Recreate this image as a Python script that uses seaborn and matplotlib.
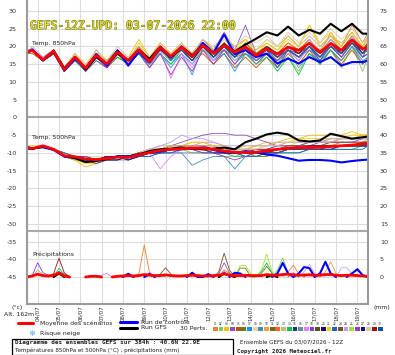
import numpy as np
import pandas as pd
import matplotlib
matplotlib.use("Agg")
import matplotlib.pyplot as plt
import seaborn as sns
from matplotlib import patheffects as pe
from matplotlib.lines import Line2D
from matplotlib.patches import Rectangle

sns.set_theme(style="white")
plt.rcParams['font.family'] = ['DejaVu Sans']
plt.rcParams['axes.unicode_minus'] = False

# ---------------- data ----------------
HOURS_T = [0] + list(range(6, 379, 12)) + [384]      # temperature time steps (h)
HOURS_P = list(range(0, 385, 6))                       # precipitation time steps (h)
DAY_HOURS = [12 + 24 * i for i in range(16)]
DAY_LABELS = ["04/07", "05/07", "06/07", "07/07", "08/07", "09/07", "10/07", "11/07",
              "12/07", "13/07", "14/07", "15/07", "16/07", "17/07", "18/07", "19/07"]
LEFT_TICKS = list(range(-45, 31, 5))
RIGHT_TICKS = list(range(0, 76, 5))

MEAN_850 = [18.4, 18.9, 16.2, 18.7, 13.5, 17.0, 13.9, 17.5, 15.1, 18.4, 16.1, 19.1, 15.8, 19.8, 17.2, 19.8, 17.2,
            20.3, 18.0, 20.3, 18.4, 19.8, 17.5, 19.3, 17.9, 19.8, 18.9, 20.9, 18.4, 20.8, 18.9, 21.9, 19.3, 19.8]
CTRL_850 = [18.4, 19.2, 16.0, 18.5, 13.2, 16.5, 14.0, 17.8, 14.6, 18.9, 14.6, 18.6, 15.5, 19.5, 16.8, 20.0, 17.0,
            21.0, 18.2, 23.4, 17.8, 19.0, 17.0, 18.0, 15.2, 16.6, 15.2, 17.0, 15.6, 17.0, 14.6, 15.6, 15.6, 16.0]
GFS_850 = [18.4, 19.0, 16.3, 18.8, 13.8, 17.0, 13.5, 17.0, 15.0, 18.0, 16.0, 19.0, 16.5, 20.0, 17.0, 20.0, 17.5,
           20.5, 18.2, 20.5, 18.6, 20.5, 22.2, 24.0, 23.1, 25.6, 23.1, 24.7, 23.6, 26.4, 24.3, 26.4, 23.6, 23.6]
PERT_850 = [
    [18,19,16,19,13,17,14,18,15,18,16,20,15,20,17,20,16,21,18,21,19,20,17,19,18,21,19,22,18,24,20,26,21,24],
    [18,19,16,18,14,17,14,17,15,19,16,19,16,20,17,19,17,20,18,19,17,19,15,18,14,17,13,18,15,19,14,20,13,17],
    [19,19,16,19,13,17,14,18,16,19,17,22,17,21,18,21,18,22,19,23,20,22,19,21,19,23,20,26,20,23,19,22,20,21],
    [18,19,17,19,14,18,14,18,15,19,16,20,16,19,16,20,17,22,19,24,19,26,18,20,17,19,17,20,16,21,18,22,18,20],
    [18,18,16,18,13,16,13,16,14,17,15,18,14,19,16,19,16,18,15,18,14,17,14,17,14,18,15,19,15,19,15,19,15,17],
    [18,19,16,18,14,17,14,17,15,18,15,18,15,19,16,19,17,20,17,19,17,18,16,18,16,19,17,20,17,20,17,21,18,19],
    [18,19,16,19,13,17,13,17,14,18,15,18,14,18,15,18,15,19,16,18,13,18,16,18,16,19,17,19,17,20,18,21,17,18],
    [18,19,17,19,14,17,14,18,16,19,17,20,17,21,18,21,18,21,19,21,19,21,18,20,19,21,19,22,19,22,19,23,20,21],
    [18,19,16,18,13,16,13,16,14,18,15,19,15,18,14,18,12,20,17,21,18,20,16,19,15,19,16,20,15,19,16,20,16,17],
    [19,19,16,19,14,18,14,17,15,18,16,19,16,20,18,20,18,21,19,20,19,20,18,20,18,20,19,21,19,23,20,24,20,23],
    [18,19,16,18,14,17,14,17,15,18,16,19,15,19,16,20,17,21,18,20,18,20,17,19,17,19,18,20,17,20,18,21,18,20],
    [18,19,16,19,13,17,13,17,14,18,15,19,15,20,17,20,17,20,17,20,17,19,17,20,18,21,19,22,18,21,19,22,19,21],
    [18,19,16,18,13,17,14,18,15,18,16,19,16,20,17,21,18,22,19,23,20,22,19,22,20,23,20,23,20,23,21,24,20,22],
    [18,19,16,18,14,16,14,17,15,17,15,18,15,18,15,19,16,19,17,19,16,18,15,17,13,17,12,18,15,19,16,20,17,18],
    [18,19,16,18,14,17,14,17,15,18,16,19,16,19,17,19,17,20,18,20,18,19,17,19,17,19,18,20,18,20,18,21,19,20],
    [18,19,16,19,13,16,14,17,15,18,16,19,15,19,16,19,16,20,16,19,15,18,15,18,16,19,14,18,16,19,16,20,15,17],
    [18,19,16,18,13,17,13,18,15,18,15,19,14,19,11,18,14,19,16,20,17,21,17,20,17,19,16,20,17,21,17,21,18,20],
    [18,19,16,19,14,17,14,17,15,19,16,19,16,20,16,19,16,20,17,21,17,20,17,19,16,19,17,20,17,21,19,22,18,19],
    [18,19,16,19,13,17,14,17,15,18,16,19,16,20,17,20,17,21,18,20,18,20,18,20,18,20,18,21,18,21,19,21,19,20],
    [18,19,16,18,14,17,14,18,15,18,15,19,16,19,17,20,17,20,18,20,18,20,17,19,17,20,19,21,18,21,19,22,19,20],
    [18,19,16,19,14,18,15,19,16,19,16,21,17,21,18,21,18,21,19,22,19,22,18,21,19,22,20,26,21,24,20,24,20,22],
    [18,19,16,18,13,17,13,17,14,18,15,18,15,19,16,19,16,20,17,20,17,20,17,19,14,19,17,20,16,20,17,21,17,18],
    [18,19,16,19,14,17,14,18,16,19,16,20,16,20,17,20,17,20,17,21,18,21,18,20,18,20,18,21,18,22,19,23,19,21],
    [18,20,17,19,14,17,14,19,15,19,16,19,16,20,16,19,15,20,16,20,16,19,16,19,17,20,17,22,18,22,18,23,19,21],
    [18,19,16,18,13,17,14,17,15,18,15,19,15,19,16,19,16,19,17,20,17,19,17,20,16,19,17,20,17,21,18,21,18,21],
    [18,19,16,18,13,17,13,17,14,18,15,19,14,18,12,17,13,19,15,19,15,19,16,18,16,19,17,20,17,21,17,21,17,20],
    [18,19,16,19,14,17,14,18,15,19,16,19,16,20,17,19,16,20,17,20,17,20,17,20,18,20,18,21,18,21,18,22,18,20],
    [18,19,16,19,14,18,15,18,16,20,17,20,17,21,18,21,18,22,20,23,20,23,21,23,20,24,21,24,21,25,22,25,21,23],
    [18,19,16,18,14,17,14,17,15,18,16,19,16,19,17,20,17,20,18,20,18,20,17,20,17,20,18,21,18,21,19,22,19,21],
    [18,19,16,19,14,17,14,18,15,18,16,19,16,20,16,20,17,20,17,20,17,20,17,19,17,19,17,20,17,21,18,21,18,20],
]

MEAN_500 = [-8.5, -8.8, -8.0, -9.0, -10.8, -11.1, -11.7, -11.9, -11.6, -11.2, -11.3, -10.6, -9.9, -9.3, -9.0, -8.8, -8.7,
            -8.7, -9.0, -9.5, -9.8, -9.9, -9.8, -9.4, -9.0, -8.7, -8.5, -8.5, -8.4, -8.2, -8.0, -7.8, -7.5, -7.4]
CTRL_500 = [-8.5, -8.7, -8.4, -9.2, -11.0, -11.2, -11.8, -12.0, -11.5, -11.0, -11.0, -10.5, -10.0, -9.5, -9.0, -9.0, -8.8,
            -8.5, -9.2, -9.8, -10.0, -9.5, -9.8, -10.5, -10.8, -11.5, -12.2, -12.0, -12.0, -12.2, -12.7, -12.3, -12.0, -11.9]
GFS_500 = [-8.5, -8.8, -8.3, -9.0, -11.0, -11.5, -12.6, -12.3, -11.8, -11.0, -11.0, -10.5, -9.5, -9.0, -8.8, -8.5, -8.8,
           -9.0, -8.8, -8.5, -9.0, -7.0, -6.0, -4.8, -4.3, -4.8, -6.5, -6.8, -6.5, -4.6, -5.3, -6.0, -5.6, -5.4]
PERT_500 = [
    [-8,-9,-8,-9,-11,-11,-12,-12,-11,-11,-11,-10,-9,-9,-8,-8,-8,-8,-9,-9,-10,-10,-9,-9,-8,-8,-8,-7,-7,-7,-6,-6,-6,-6],
    [-9,-9,-8,-9,-10,-11,-12,-12,-12,-11,-12,-11,-10,-10,-10,-9,-10,-10,-10,-11,-11,-10,-10,-10,-9,-9,-9,-8,-9,-8,-8,-8,-8,-8],
    [-8,-8,-8,-9,-11,-12,-14,-13,-12,-11,-11,-10,-10,-9,-8,-8,-7,-7,-8,-8,-9,-8,-8,-7,-7,-6,-6,-5,-5,-5,-5,-4,-5,-5],
    [-9,-9,-8,-9,-11,-11,-11,-12,-11,-11,-12,-11,-10,-9,-8,-7,-6,-5,-4.5,-4.5,-5,-5,-6,-7,-8,-8,-8,-7,-7,-7,-6,-6,-6,-6],
    [-8,-9,-8,-9,-11,-11,-12,-12,-12,-11,-11,-11,-10,-10,-9,-9,-9,-9,-10,-10,-10,-10,-10,-10,-9,-9,-9,-9,-9,-8,-8,-8,-7,-7],
    [-9,-9,-8,-9,-10,-11,-11,-12,-11,-11,-11,-10,-9,-9,-9,-9,-9,-9,-9,-9,-10,-10,-11,-11,-10,-9,-9,-9,-8,-8,-8,-8,-8,-7],
    [-8,-9,-8,-9,-11,-11,-12,-12,-11,-11,-11,-11,-10,-10,-9,-9,-9,-9,-9,-10,-10,-11,-11,-10,-10,-9,-9,-9,-9,-9,-8,-8,-8,-8],
    [-8,-8,-8,-9,-11,-11,-11,-11,-11,-11,-11,-10,-9,-8,-8,-8,-8,-8,-8,-9,-9,-9,-9,-8,-8,-8,-7,-7,-7,-6,-6,-5,-5,-5],
    [-9,-9,-8,-9,-11,-12,-12,-12,-12,-12,-12,-11,-11,-10,-10,-10,-13.5,-12,-11,-11,-14.5,-11,-10,-10,-10,-9,-9,-9,-8,-8,-8,-8,-8,-8],
    [-8,-9,-8,-9,-10,-11,-11,-12,-11,-11,-11,-10,-10,-9,-9,-8,-8,-8,-9,-9,-9,-9,-8,-8,-8,-7,-7,-7,-7,-6,-6,-6,-5,-5],
    [-9,-9,-8,-9,-11,-11,-12,-12,-12,-11,-11,-11,-10,-10,-9,-9,-9,-9,-9,-10,-10,-10,-10,-10,-9,-9,-9,-9,-9,-9,-8,-8,-8,-7],
    [-8,-9,-8,-9,-11,-11,-12,-12,-12,-11,-11,-10,-10,-9,-9,-9,-8,-8,-9,-9,-10,-10,-10,-9,-9,-9,-9,-8,-8,-8,-7,-7,-7,-7],
    [-8,-9,-8,-9,-11,-11,-12,-12,-11,-11,-11,-10,-9,-8,-8,-8,-8,-8,-8,-9,-9,-9,-9,-9,-9,-8,-8,-8,-8,-7,-7,-7,-7,-6],
    [-9,-9,-8,-9,-11,-11,-12,-12,-11,-11,-11,-11,-10,-10,-9,-9,-9,-10,-10,-10,-11,-11,-11,-10,-10,-10,-10,-9,-9,-9,-9,-9,-8,-8],
    [-9,-9,-8,-9,-11,-11,-12,-12,-12,-12,-11,-11,-10,-10,-9,-9,-9,-9,-9,-9,-10,-10,-10,-9,-9,-9,-8,-8,-8,-8,-8,-8,-7,-7],
    [-8,-9,-8,-9,-11,-12,-12,-12,-11,-11,-11,-10,-10,-10,-10,-10,-10,-10,-10,-10,-10,-10,-10,-10,-9,-9,-9,-9,-9,-8,-8,-8,-8,-8],
    [-9,-9,-8,-9,-11,-11,-12,-12,-12,-11,-11,-11,-10,-14.5,-11,-9,-8,-7,-7,-8,-9,-9,-9,-9,-9,-9,-9,-8,-8,-8,-8,-8,-7,-7],
    [-8,-9,-8,-9,-11,-11,-12,-12,-11,-11,-11,-10,-9,-9,-9,-8,-8,-8,-8,-9,-9,-9,-9,-9,-8,-8,-8,-8,-7,-7,-7,-7,-6,-6],
    [-9,-9,-8,-9,-11,-11,-12,-12,-12,-11,-11,-11,-10,-9,-9,-9,-9,-9,-9,-10,-10,-10,-10,-10,-9,-9,-9,-9,-9,-8,-8,-8,-8,-8],
    [-9,-9,-8,-9,-11,-11,-12,-12,-12,-12,-11,-11,-10,-10,-9,-9,-9,-9,-10,-10,-10,-10,-10,-10,-9,-9,-9,-9,-8,-8,-8,-8,-8,-8],
    [-8,-9,-8,-9,-11,-12,-13,-13,-12,-11,-11,-10,-9,-9,-8,-8,-7,-7,-8,-8,-9,-9,-8,-8,-7,-7,-6,-6,-6,-6,-6,-5,-5,-5],
    [-9,-9,-8,-9,-10,-11,-11,-12,-11,-11,-12,-11,-11,-10,-10,-9,-9,-9,-10,-10,-10,-11,-11,-10,-10,-10,-10,-9,-9,-9,-9,-9,-9,-8],
    [-8,-9,-8,-9,-11,-11,-12,-12,-11,-11,-11,-10,-9,-9,-8,-8,-8,-8,-9,-9,-10,-10,-9,-9,-9,-8,-8,-8,-8,-7,-7,-7,-7,-7],
    [-9,-9,-8,-9,-11,-11,-12,-12,-12,-11,-11,-10,-9,-8,-7,-5,-6,-6,-7,-8,-8,-8,-8,-8,-7,-7,-7,-7,-7,-6,-6,-6,-6,-6],
    [-8,-9,-8,-9,-11,-11,-12,-12,-12,-11,-11,-11,-10,-9,-9,-9,-9,-9,-9,-9,-10,-10,-10,-10,-9,-9,-9,-9,-8,-8,-8,-8,-7,-7],
    [-9,-9,-8,-9,-11,-11,-12,-12,-11,-11,-11,-11,-10,-10,-9,-9,-9,-10,-10,-11,-12,-11,-10,-10,-10,-9,-9,-9,-9,-9,-8,-8,-8,-8],
    [-9,-9,-8,-9,-11,-11,-12,-12,-11,-11,-12,-11,-10,-9,-9,-9,-9,-9,-9,-10,-10,-10,-10,-10,-9,-9,-9,-8,-8,-8,-8,-8,-8,-8],
    [-8,-9,-8,-9,-11,-11,-12,-12,-12,-11,-11,-10,-9,-9,-8,-8,-8,-8,-8,-9,-9,-9,-9,-8,-8,-7,-7,-7,-7,-7,-6,-6,-6,-6],
    [-9,-9,-8,-9,-11,-11,-12,-12,-11,-11,-11,-10,-10,-9,-9,-9,-9,-9,-9,-10,-10,-10,-10,-10,-9,-9,-9,-8,-8,-8,-8,-8,-7,-7],
    [-9,-9,-8,-9,-11,-11,-12,-13,-12,-11,-11,-11,-10,-10,-9,-9,-9,-9,-9,-10,-10,-10,-10,-10,-10,-9,-9,-9,-9,-9,-8,-8,-8,-8],
]

MEAN_PR = [0, 0.3, 0.8, 0.4, 0.3, 0.5, 1.2, 0.3, 0, 0, 0, 0, 0.2,
           0.2, 0, 0, 0, 0.2, 0.3, 0.4, 0.3, 0.4, 0.7, 0.5, 0.4, 0.4,
           0.6, 0.4, 0.3, 0.3, 0.4, 0.5, 0.4, 0.3, 0.3, 0.4, 0.5, 0.9, 0.5,
           0.4, 0.4, 0.5, 0.4, 0.4, 0.4, 0.7, 0.5, 0.5, 0.7, 0.8, 0.6, 0.5,
           0.6, 0.6, 0.5, 0.5, 0.7, 0.7, 0.5, 0.4, 0.5, 0.5, 0.4, 0.3, 0.2]
CTRL_PR = {114: 0.9, 138: 0.8, 186: 1.2, 204: 0.8, 234: 1.2, 240: 1.0, 282: 1.0, 288: 4.0, 294: 1.0,
           306: 1.0, 312: 2.8, 318: 2.5, 330: 1.0, 336: 4.3, 342: 1.0, 366: 1.0, 372: 2.2, 378: 0.5}
GFS_PR = {36: 1.0, 222: 1.0, 228: 0.5, 276: 0.5}
PERT_PR = {
    1: {126: 1.0, 132: 9.0, 138: 1.2, 294: 1.5, 300: 3.3, 306: 1.0},
    2: {12: 2.0, 18: 0.6, 282: 2.0, 288: 5.4, 294: 1.0},
    4: {216: 1.0, 222: 4.0, 228: 1.2, 318: 1.0},
    6: {240: 2.5, 246: 2.5, 264: 1.0, 270: 3.0, 276: 1.0},
    7: {36: 1.6, 42: 0.6, 150: 0.8},
    10: {336: 1.5, 342: 4.3, 348: 1.0},
    12: {222: 2.0, 228: 1.0},
    14: {36: 2.5, 42: 0.8, 264: 1.5, 270: 4.0, 276: 1.0},
    17: {84: 0.5, 90: 1.0, 330: 1.5},
    18: {6: 0.5, 12: 4.0, 18: 1.2, 24: 0.5},
    23: {150: 0.8, 156: 2.6, 162: 0.8, 216: 1.5, 222: 6.7, 228: 2.0},
    24: {312: 1.5, 318: 3.5, 324: 1.0, 354: 2.6, 360: 2.6, 366: 1.0},
    25: {240: 3.2, 246: 3.2, 252: 1.0, 264: 2.0, 270: 6.5, 276: 1.5},
    26: {138: 1.2, 222: 1.5, 300: 1.2},
    29: {30: 1.0, 36: 5.3, 42: 1.2},
}

COLORS = ["#f08030", "#80c860", "#f0c010", "#9050c0", "#c05000", "#608010", "#1890f0", "#e8d8a8",
          "#3890c0", "#e8a040", "#806018", "#f06818", "#c8b880", "#10c050", "#1a4060", "#6888a8",
          "#e880f8", "#8838e0", "#585020", "#280070", "#f0d000", "#2060c0", "#805028", "#b8a0f0",
          "#a0e030", "#a038c0", "#081880", "#d8c8a8", "#a01010", "#1050a0"]
PR_OFFSET = -45   # precipitation 0 mm sits at -45 on the left scale

assert len(MEAN_PR) == len(HOURS_P)
for s in PERT_850 + PERT_500 + [MEAN_850, CTRL_850, GFS_850, MEAN_500, CTRL_500, GFS_500]:
    assert len(s) == len(HOURS_T)

# ---------------- figure ----------------
W, H = 395, 355
fig = plt.figure(figsize=(W / 100, H / 100), dpi=100)
fig.patch.set_facecolor("white")
ax = fig.add_axes([27 / W, 1 - 304 / H, 341 / W, 304 / H])
ax.set_facecolor("white")

names = [f"{i + 1:02d}" for i in range(30)]
pal = dict(zip(names, COLORS))

rows = []
for n, s5, s8 in zip(names, PERT_500, PERT_850):
    for h, a, b in zip(HOURS_T, s5, s8):
        rows.append((n, "500", h, a))
        rows.append((n, "850", h, b))
dft = pd.DataFrame(rows, columns=["member", "level", "hour", "val"])


def pr_frame(series, name):
    v = np.asarray(series, float)
    n = len(v)
    keep = np.array([(v[i] != 0) or (i > 0 and v[i - 1] != 0) or (i < n - 1 and v[i + 1] != 0)
                     for i in range(n)])
    seg = np.cumsum(~keep)
    d = pd.DataFrame({"member": name, "hour": HOURS_P, "val": v + PR_OFFSET, "seg": seg})
    return d[keep]


dfp = pd.concat([pr_frame([PERT_PR[k].get(h, 0.0) for h in HOURS_P], names[k - 1]) for k in PERT_PR])

lw_m = 0.6
for lev in ["850", "500"]:
    sns.lineplot(data=dft[dft.level == lev], x="hour", y="val", hue="member", palette=pal,
                 estimator=None, legend=False, lw=lw_m, ax=ax, sort=False)
sns.lineplot(data=dfp, x="hour", y="val", hue="member", units="seg", palette=pal,
             estimator=None, legend=False, lw=lw_m, ax=ax, sort=False)

# GFS, control, mean
for s in [GFS_850, GFS_500]:
    sns.lineplot(x=HOURS_T, y=s, color="black", lw=1.5, ax=ax, sort=False)
gp = pr_frame([GFS_PR.get(h, 0.0) for h in HOURS_P], "gfs")
sns.lineplot(data=gp, x="hour", y="val", units="seg", estimator=None, color="black", lw=1.5, ax=ax)
for s in [CTRL_850, CTRL_500]:
    sns.lineplot(x=HOURS_T, y=s, color="#0000ff", lw=1.5, ax=ax, sort=False)
cp = pr_frame([CTRL_PR.get(h, 0.0) for h in HOURS_P], "ctrl")
sns.lineplot(data=cp, x="hour", y="val", units="seg", estimator=None, color="#0000ff", lw=1.5, ax=ax)
for s in [MEAN_850, MEAN_500]:
    sns.lineplot(x=HOURS_T, y=s, color="#ff0000", lw=2.0, ax=ax, sort=False)
mp = pr_frame(MEAN_PR, "mean")
sns.lineplot(data=mp, x="hour", y="val", units="seg", estimator=None, color="#ff0000", lw=2.0, ax=ax)

# axes styling
ax.set_xlim(0, 384)
ax.set_ylim(-52.61, 33.10)
ax.set_xlabel("")
ax.set_ylabel("")
ax.set_axisbelow(True)
ax.set_xticks(DAY_HOURS)
ax.set_xticklabels(DAY_LABELS)
ax.set_yticks(LEFT_TICKS)
ax.set_yticklabels([str(t) for t in LEFT_TICKS])
ax.grid(True, color="#dcdcdc", lw=0.8)
ax.axhline(0, color="#a8a8a8", lw=1.5, zorder=1)
ax.axhline(-32, color="#a8a8a8", lw=1.5, zorder=1)
for sp in ["left", "right", "bottom"]:
    ax.spines[sp].set_color("#9a9a9a")
    ax.spines[sp].set_linewidth(1.5)
ax.spines["top"].set_visible(False)
ax.tick_params(axis="y", length=0, pad=7.5, labelsize=4.6, labelcolor="#303030")
ax.tick_params(axis="x", length=0, pad=1.0, labelsize=3.9, labelcolor="#303030", rotation=90)

sec = ax.secondary_yaxis("right", functions=(lambda y: y + 45, lambda y: y - 45))
sec.set_yticks(RIGHT_TICKS)
sec.set_yticklabels([str(t) for t in RIGHT_TICKS])
sec.tick_params(length=0, pad=8.5, labelsize=4.6, labelcolor="#303030")
sec.spines["right"].set_visible(False)


def T(x, y, s, **kw):
    kw.setdefault("va", "center")
    kw.setdefault("ha", "left")
    kw.setdefault("fontsize", 4.4)
    kw.setdefault("color", "#202020")
    return fig.text(x / W, 1 - y / H, s, **kw)


# title
T(30, 26, "GEFS-12Z-UPD: 03-07-2026 22:00", fontsize=8.2, family="DejaVu Sans Mono",
  color="#eeee10", path_effects=[pe.withStroke(linewidth=0.8, foreground="#6a6a30")], zorder=10)
T(32, 44, "Temp. 850hPa", zorder=10)
T(32, 138, "Temp. 500hPa", zorder=10)
T(32, 254, "Précipitations", zorder=10)

T(11, 308, "(°c)")
T(4, 314, "Alt. 162m")
T(373, 308, "(mm)")

# legend
fig.add_artist(Line2D([18 / W, 33 / W], [1 - 323 / H] * 2, color="#ff0000", lw=2.2))
T(40, 323, "Moyenne des scénarios")
fig.add_artist(Line2D([120 / W, 137 / W], [1 - 322 / H] * 2, color="#0000ff", lw=2.2))
T(141, 322, "Run de contrôle")
fig.add_artist(Line2D([120 / W, 137 / W], [1 - 327.5 / H] * 2, color="black", lw=2.2))
T(141, 327.5, "Run GFS")
T(32, 333, "\u2744", ha="center", color="#55aaee", fontsize=6)
T(40, 333, "Risque neige")
T(180, 329, "30 Perts.")
x0, step = 213, 5.68
for i, c in enumerate(COLORS):
    fig.add_artist(Rectangle(((x0 + i * step) / W, 1 - 330.5 / H), 4.8 / W, 4 / H,
                             facecolor=c, edgecolor="none"))
    T(x0 + i * step + 2.4, 323.8, names[i], ha="center", fontsize=2.1)

# info box
fig.add_artist(Rectangle((12 / W, 1 - 354.5 / H), 221 / W, 16 / H, fill=False, ec="black", lw=0.9))
T(15, 342.5, "Diagramme des ensembles GEFS sur 384h : 40.6N 22.9E", fontsize=4.3,
  family="DejaVu Sans Mono", weight="bold")
T(15, 350, "Températures 850hPa et 500hPa (°C) , précipitations (mm)", fontsize=4.1)
T(240, 342, "Ensemble GEFS du 03/07/2026 - 12Z", fontsize=4.1)
T(237, 351, "Copyright 2026 Meteociel.fr", fontsize=4.2, family="DejaVu Sans Mono", weight="bold")

fig.savefig("out.png", dpi=100)
